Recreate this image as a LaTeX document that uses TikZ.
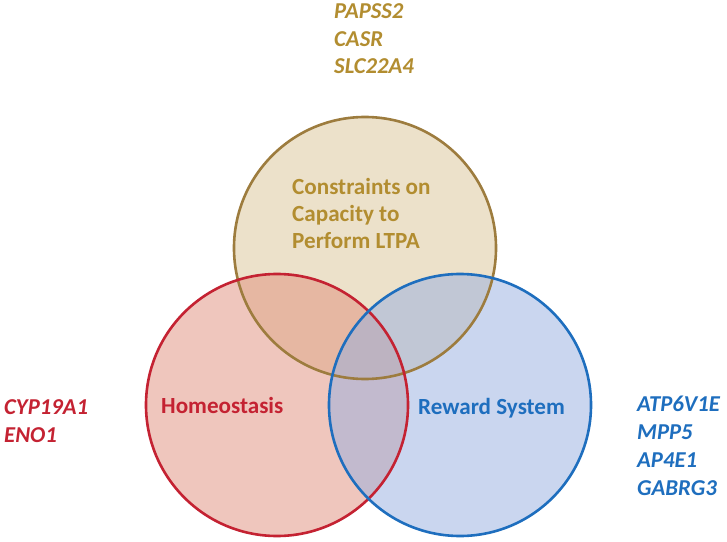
\documentclass[tikz,border=0pt]{standalone}
\usepackage{fontspec}
\setmainfont{Carlito}
\usepackage{tikz}
\usetikzlibrary{positioning}
\definecolor{goldline}{RGB}{157,124,62}
\definecolor{goldtext}{RGB}{178,141,48}
\definecolor{goldfill}{RGB}{218,196,150}
\definecolor{redline}{RGB}{196,34,50}
\definecolor{redfill}{RGB}{224,142,124}
\definecolor{blueline}{RGB}{30,110,190}
\definecolor{bluefill}{RGB}{150,174,224}
\tikzset{
  venn/.style={circle, minimum size=262bp, inner sep=0pt, line width=2.6bp, fill opacity=0.5},
  title/.style={font=\fontsize{23.2}{27.5}\selectfont\bfseries, align=left, inner sep=0pt, anchor=base west},
  genes/.style={font=\fontsize{22.8}{28}\selectfont\bfseries\itshape, align=left, inner sep=0pt, anchor=base west}
}

\begin{document}
\begin{tikzpicture}[x=1bp,y=-1bp]
\useasboundingbox (0,0) rectangle (727,542);
% the three sets
\node [venn, fill=goldfill] (ltpa) at (365,248) {};
\node [venn, fill=redfill] (homeo) at (277,405) {};
\node [venn, fill=bluefill] (reward) at (460,405) {};
\draw [goldline, line width=2.6bp] (ltpa) circle (131bp);
\draw [redline, line width=2.6bp] (homeo) circle (131bp);
\draw [blueline, line width=2.6bp] (reward) circle (131bp);

% names (base = last line)
\node [title, goldtext] (ltpaname) at (292,249) {Constraints on\\Capacity to\\Perform LTPA};
\node [title, redline] (homeoname) at (161,413) {Homeostasis};
\node [title, blueline] (rewardname) at (418,414) {Reward System};

% genes
\node [genes, goldtext] (ltpagenes) at (334,74) {PAPSS2\\CASR\\SLC22A4};
\node [genes, redline] (homeogenes) at (4,442) {CYP19A1\\ENO1};
\node [genes, blueline] (rewardgenes) at (637,495) {ATP6V1E\\MPP5\\AP4E1\\GABRG3};
\end{tikzpicture}
\end{document}
